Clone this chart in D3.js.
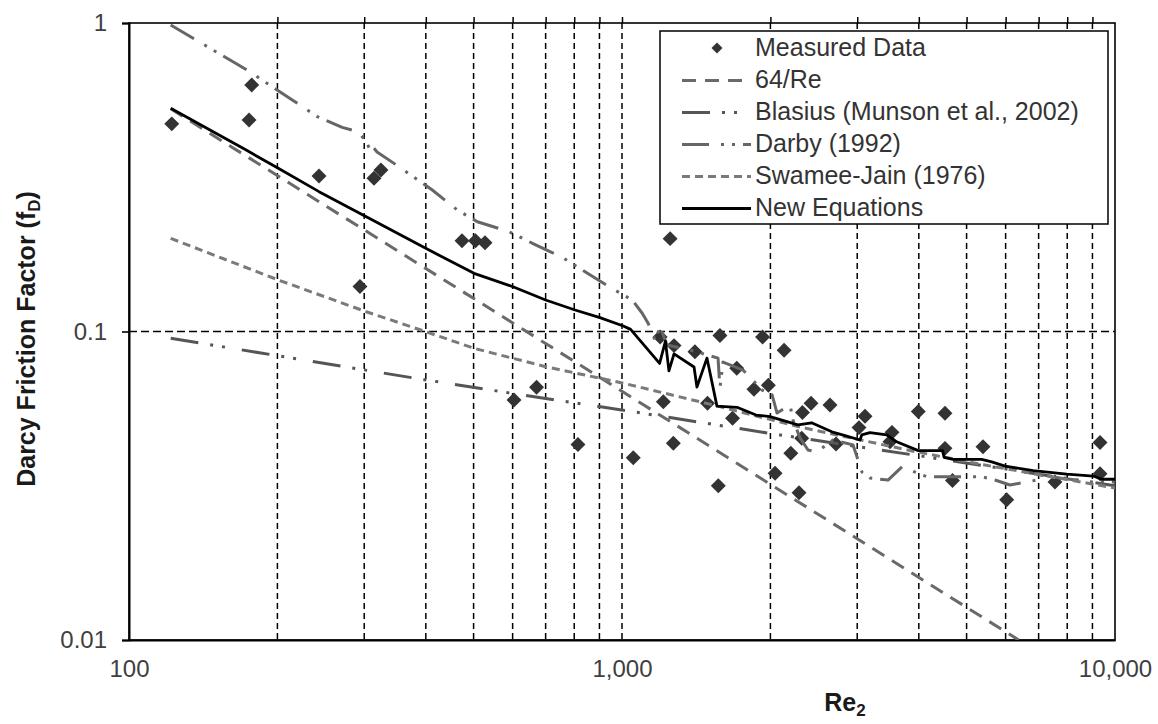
<!DOCTYPE html>
<html>
<head>
<meta charset="utf-8">
<script src="https://cdn.jsdelivr.net/npm/d3@7"></script>
<style>
  body { margin: 0; background: #fff; }
  svg { display: block; font-family: "Liberation Sans", Arial, sans-serif; }
</style>
</head>
<body>
<svg id="chart" width="1158" height="724"></svg>
<script>
// values
const measuredRe = [122.1, 177.4, 175.2, 242.9, 314, 324.4, 294.1, 473.7, 504.5, 527.4,
  603.9, 670.9, 1252, 814.1, 1054, 1195, 1275, 1406, 1580, 1928,
  2132, 1709, 1981, 1852, 2418, 1491, 2323, 1676, 1213, 2315,
  1271, 2200, 2044, 1568, 2286, 2642, 3111, 3025, 2717, 3529,
  3496, 3990, 4520, 4520, 5398, 4681, 7555, 6030, 9325, 9325];
const measuredF = [0.471, 0.630, 0.485, 0.319, 0.314, 0.334, 0.140, 0.197, 0.197, 0.194,
  0.060, 0.066, 0.200, 0.043, 0.039, 0.096, 0.090, 0.086, 0.097, 0.096,
  0.087, 0.076, 0.067, 0.065, 0.0585, 0.0585, 0.0546, 0.0523, 0.0592, 0.0451,
  0.0434, 0.0403, 0.0347, 0.0316, 0.030, 0.0578, 0.0531, 0.0488, 0.0432, 0.0471,
  0.0439, 0.055, 0.0543, 0.0418, 0.0423, 0.0329, 0.0325, 0.0285, 0.0437, 0.0346];

const laminar = [[121.5, 0.527], [1000, 0.064], [6376, 0.01]];

const blasius = [[121.5, 0.0951], [381.6, 0.0705], [541.6, 0.0646], [1049, 0.055],
  [2092, 0.0462], [4157, 0.0392], [10000, 0.0316]];

const darby = [[121.5, 0.985], [172.5, 0.708], [214.4, 0.563], [241, 0.497], [270.7, 0.459],
  [291.8, 0.444], [302.9, 0.412], [308.2, 0.388], [312.6, 0.396], [318.5, 0.382],
  [352.9, 0.342], [412.3, 0.2875], [463.5, 0.2476], [508.8, 0.2269], [589.7, 0.2107],
  [663.1, 0.1921], [756.5, 0.174], [830.8, 0.1583], [941, 0.1397], [1049, 0.1265],
  [1099, 0.1146], [1129, 0.1066], [1167, 0.0938], [1195, 0.1034], [1234, 0.0904],
  [1374, 0.0871], [1566, 0.082], [1580, 0.0656], [1603, 0.0796], [1760, 0.075],
  [1923, 0.0646], [2016, 0.0623], [2063, 0.0544], [2192, 0.0578], [2223, 0.0516],
  [2297, 0.0452], [2384, 0.0413], [2486, 0.0407], [2679, 0.0445], [2942, 0.0429],
  [3068, 0.035], [3184, 0.0335], [3464, 0.033], [3698, 0.0364], [4157, 0.0338],
  [5373, 0.0338], [5710, 0.033], [6124, 0.0318], [6948, 0.033], [7046, 0.0343],
  [7733, 0.0335], [9024, 0.0325], [10000, 0.0325]];

const swameeJain = [[121.5, 0.2004], [200.8, 0.1469], [302.9, 0.1159], [399.8, 0.0999],
  [501, 0.0882], [700, 0.0769], [1006, 0.068], [1530, 0.0578], [2297, 0.049],
  [3874, 0.041], [5448, 0.0369], [10000, 0.0311]];

const newEquations = [[121.5, 0.529], [172.5, 0.388], [200.8, 0.338], [242.9, 0.284],
  [302.9, 0.2355], [399.8, 0.186], [501, 0.1544], [601, 0.1397], [700, 0.1265],
  [803, 0.1174], [902, 0.1109], [1006, 0.1042], [1041, 0.1016], [1192, 0.0788],
  [1225, 0.0931], [1245, 0.0745], [1275, 0.0846], [1400, 0.0767], [1419, 0.0661],
  [1487, 0.082], [1558, 0.0573], [1711, 0.0568], [1870, 0.0536], [1996, 0.053],
  [2275, 0.0498], [2424, 0.0506], [2664, 0.0473], [2857, 0.0458], [3040, 0.0445],
  [3064, 0.0462], [3184, 0.047], [3443, 0.0462], [3607, 0.0439], [3990, 0.0411],
  [4470, 0.0411], [4500, 0.0391], [4699, 0.0385], [5364, 0.0385], [5623, 0.0378],
  [5983, 0.0366], [6829, 0.0354], [7980, 0.0345], [9036, 0.034], [9397, 0.0332],
  [10000, 0.0332]];

const xLabelTicks = [100, 1000, 10000];
const xGridTicks = [200, 300, 400, 500, 600, 700, 800, 900, 1000,
  2000, 3000, 4000, 5000, 6000, 7000, 8000, 9000];
const yTicks = [0.01, 0.1, 1];
const yGridTicks = [0.1];

const legendLabels = ["Measured Data", "64/Re", "Blasius (Munson et al., 2002)",
  "Darby (1992)", "Swamee-Jain (1976)", "New Equations"];

const svg = d3.select('#chart');
const plot_left = 129, plot_right = 1115, plot_top = 23, plot_bottom = 640;

const x = d3.scaleLog().domain([100, 10000]).range([plot_left, plot_right]);
const y = d3.scaleLog().domain([0.01, 1]).range([plot_bottom, plot_top]);

svg.append('defs').append('clipPath').attr('id', 'plot-clip')
  .append('rect')
  .attr('x', plot_left).attr('y', plot_top)
  .attr('width', plot_right - plot_left).attr('height', plot_bottom - plot_top);

// grid
let grid = svg.append('g');
grid.selectAll('line.vg').data(xGridTicks).enter().append('line')
  .attr('class', 'vg')
  .attr('x1', d => x(d)).attr('x2', d => x(d))
  .attr('y1', plot_top).attr('y2', plot_bottom)
  .attr('stroke', '#000').attr('stroke-width', 1.5)
  .attr('stroke-dasharray', '6,4');
grid.selectAll('line.hg').data(yGridTicks).enter().append('line')
  .attr('class', 'hg')
  .attr('x1', plot_left).attr('x2', plot_right)
  .attr('y1', d => y(d)).attr('y2', d => y(d))
  .attr('stroke', '#000').attr('stroke-width', 1.5)
  .attr('stroke-dasharray', '8,4');

// small ticks above the top border
svg.append('g')
  .attr('transform', 'translate(0,' + plot_top + ')')
  .call(d3.axisTop(x).tickValues(xGridTicks).tickSize(6).tickFormat(''))
  .call(g => g.select('.domain').remove())
  .selectAll('line').attr('stroke', '#000').attr('stroke-width', 1.5);

// frame
svg.append('rect')
  .attr('x', plot_left).attr('y', plot_top)
  .attr('width', plot_right - plot_left).attr('height', plot_bottom - plot_top)
  .attr('fill', 'none').attr('stroke', '#000').attr('stroke-width', 1.6);

// axes
let yAxis = svg.append('g')
  .attr('transform', 'translate(' + plot_left + ',0)')
  .call(d3.axisLeft(y).tickValues(yTicks).tickSize(7).tickPadding(15)
    .tickFormat(d => String(d)));
yAxis.select('.domain').attr('stroke', '#000').attr('stroke-width', 2);
yAxis.selectAll('line').attr('stroke', '#000').attr('stroke-width', 1.6);
yAxis.selectAll('text')
  .attr('font-family', '"Liberation Sans", Arial, sans-serif')
  .attr('font-size', 24).attr('fill', '#404040');

let xAxis = svg.append('g')
  .attr('transform', 'translate(0,' + plot_bottom + ')')
  .call(d3.axisBottom(x).tickValues(xLabelTicks).tickSize(0).tickPadding(20)
    .tickFormat(d3.format(',')));
xAxis.select('.domain').attr('stroke', '#000').attr('stroke-width', 2);
xAxis.selectAll('text')
  .attr('font-family', '"Liberation Sans", Arial, sans-serif')
  .attr('font-size', 24).attr('fill', '#404040');

// axis titles
let yTitle = svg.append('text')
  .attr('transform', 'translate(35,339) rotate(-90)')
  .attr('text-anchor', 'middle')
  .attr('font-size', 25).attr('font-weight', 'bold').attr('fill', '#1a1a1a');
yTitle.append('tspan').text('Darcy Friction Factor (f');
yTitle.append('tspan').attr('font-size', 17).attr('dy', 5).text('D');
yTitle.append('tspan').attr('dy', -5).text(')');

let xTitle = svg.append('text')
  .attr('x', 845).attr('y', 711)
  .attr('text-anchor', 'middle')
  .attr('font-size', 25).attr('font-weight', 'bold').attr('fill', '#1a1a1a');
xTitle.append('tspan').text('Re');
xTitle.append('tspan').attr('font-size', 17).attr('dy', 5).text('2');

// series
const diamond = d3.symbol().type(d3.symbolSquare).size(112);
let plot = svg.append('g').attr('clip-path', 'url(#plot-clip)');

plot.selectAll('path.pt').data(measuredRe).enter().append('path')
  .attr('class', 'pt')
  .attr('d', diamond)
  .attr('transform', (d, i) => 'translate(' + x(d) + ',' + y(measuredF[i]) + ') rotate(45)')
  .attr('fill', '#333');

const line = d3.line().x(d => x(d[0])).y(d => y(d[1]));

const styles = [
  {data: laminar, color: '#6a6a6a', width: 3, dash: '14,9'},
  {data: blasius, color: '#555', width: 3, dash: '28,12,3,9,3,17'},
  {data: darby, color: '#666', width: 3, dash: '27,12,3,8,3,8'},
  {data: swameeJain, color: '#7a7a7a', width: 3, dash: '8,5'},
  {data: newEquations, color: '#000', width: 2.8, dash: null}
];

styles.forEach(function(s) {
  plot.append('path')
    .attr('d', line(s.data))
    .attr('fill', 'none')
    .attr('stroke', s.color)
    .attr('stroke-width', s.width)
    .attr('stroke-linejoin', 'round')
    .attr('stroke-dasharray', s.dash);
});

// legend
let legend = svg.append('g');
legend.append('rect')
  .attr('x', 660).attr('y', 31).attr('width', 448).attr('height', 193)
  .attr('fill', '#fff').attr('stroke', '#000').attr('stroke-width', 1.5);

legendLabels.forEach(function(label, i) {
  let base = 56 + 32 * i;
  if (i === 0) {
    legend.append('path')
      .attr('d', d3.symbol().type(d3.symbolSquare).size(60))
      .attr('transform', 'translate(717,' + (base - 8) + ') rotate(45)')
      .attr('fill', '#333');
  } else {
    let s = styles[i - 1];
    legend.append('line')
      .attr('x1', 682).attr('x2', 751)
      .attr('y1', base - 7.5).attr('y2', base - 7.5)
      .attr('stroke', s.color).attr('stroke-width', s.width)
      .attr('stroke-dasharray', s.dash);
  }
  legend.append('text')
    .attr('x', 755).attr('y', base)
    .attr('font-size', 25).attr('fill', '#333')
    .text(label);
});
</script>
</body>
</html>
